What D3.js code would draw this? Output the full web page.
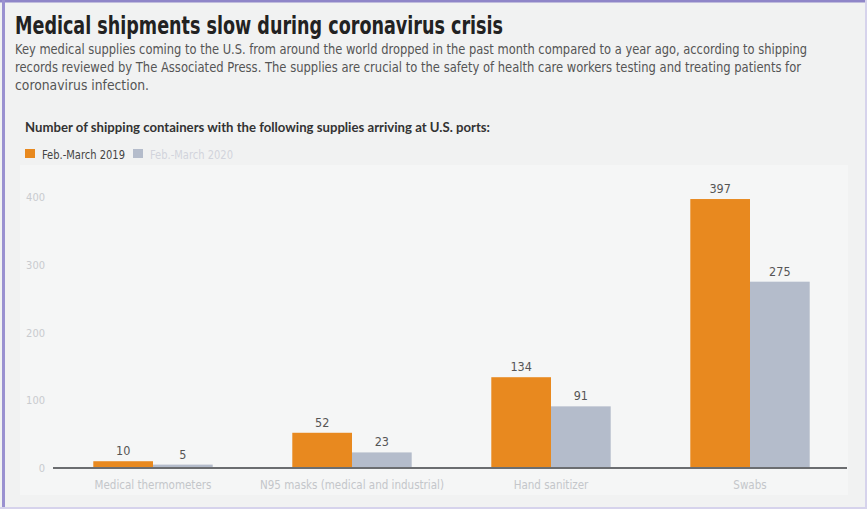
<!DOCTYPE html>
<html><head><meta charset="utf-8">
<script src="https://cdn.jsdelivr.net/npm/d3@7"></script>
<style>
html,body{margin:0;padding:0;background:#f1f2f2;}
svg{display:block;}
</style></head>
<body>
<script>
const categories = ["Medical thermometers", "N95 masks (medical and industrial)", "Hand sanitizer", "Swabs"];
const seriesNames = ["Feb.-March 2019", "Feb.-March 2020"];
const values2019 = [10, 52, 134, 397];
const values2020 = [5, 23, 91, 275];
const yTicks = [0, 100, 200, 300, 400];
const colors = ["#e8891f", "#b4bccb"];

const W = 867, H = 509;
const COND = "'DejaVu Sans Condensed','Liberation Sans Narrow',sans-serif";
const svg = d3.select("body").append("svg").attr("width", W).attr("height", H);

// background and frame
svg.append("rect").attr("x",0).attr("y",0).attr("width",W).attr("height",H).attr("fill","#f1f2f2");
svg.append("rect").attr("x",20).attr("y",165).attr("width",828).attr("height",330).attr("fill","#f5f6f6");
svg.append("rect").attr("x",0).attr("y",0).attr("width",W).attr("height",2.5).attr("fill","#8f86c8");
svg.append("rect").attr("x",2).attr("y",0).attr("width",3).attr("height",H).attr("fill","#9a91d0");
svg.append("rect").attr("x",W-2).attr("y",0).attr("width",2).attr("height",H).attr("fill","#d6d3ec");
svg.append("rect").attr("x",0).attr("y",H-2).attr("width",W).attr("height",2).attr("fill","#d6d3ec");

// titles
svg.append("text").attr("x",15).attr("y",34)
  .style("font-family",COND)
  .style("font-weight","bold").style("font-size","24px").attr("fill","#222")
  .attr("textLength",488).attr("lengthAdjust","spacingAndGlyphs")
  .text("Medical shipments slow during coronavirus crisis");
const sub = ["Key medical supplies coming to the U.S. from around the world dropped in the past month compared to a year ago, according to shipping",
  "records reviewed by The Associated Press. The supplies are crucial to the safety of health care workers testing and treating patients for",
  "coronavirus infection."];
const subLen = [792, 786, 134];
sub.forEach((s,i)=>{
  svg.append("text").attr("x",15).attr("y",54+i*18)
    .style("font-family",COND)
    .style("font-size","13.5px").attr("fill","#555")
    .attr("textLength",subLen[i]).attr("lengthAdjust","spacingAndGlyphs").text(s);
});
svg.append("text").attr("x",25).attr("y",132)
  .style("font-family","Lato,sans-serif").style("font-weight","bold")
  .style("font-size","13px").attr("fill","#333")
  .attr("textLength",465).attr("lengthAdjust","spacingAndGlyphs")
  .text("Number of shipping containers with the following supplies arriving at U.S. ports:");

// legend
const leg = svg.append("g").attr("transform","translate(25,149)");
const legX = [0, 108];
seriesNames.forEach((n,i)=>{
  leg.append("rect").attr("x",legX[i]).attr("y",0).attr("width",10).attr("height",9).attr("fill",colors[i]);
  leg.append("text").attr("x",legX[i]+17).attr("y",9.5)
    .style("font-family",COND)
    .style("font-size","12.5px").attr("fill", i===0 ? "#444" : "#d2d4dc")
    .attr("textLength",83).attr("lengthAdjust","spacingAndGlyphs").text(n);
});

// scales
const margin = {left:53.5, right:849.5, top:197, bottom:468};
const x0 = d3.scaleBand().domain(categories).range([margin.left, margin.right]).paddingInner(0.4).paddingOuter(0.2);
const x1 = d3.scaleBand().domain([0,1]).range([0, x0.bandwidth()]);
const y = d3.scaleLinear().domain([0,400]).range([margin.bottom, margin.top]);

// y axis labels
const yAxis = d3.axisLeft(y).tickValues(yTicks).tickSize(0).tickPadding(0);
const yg = svg.append("g").attr("transform","translate(45,0)").call(yAxis);
yg.select(".domain").remove();
yg.selectAll("text").style("font-family",COND)
  .style("font-size","11px").attr("fill","#c9cbcf");

// bars
const data = categories.map((c,i)=>({cat:c, vals:[values2019[i], values2020[i]]}));
const g = svg.append("g");
data.forEach(d=>{
  d.vals.forEach((v,j)=>{
    const bx = x0(d.cat) + x1(j);
    g.append("rect").attr("x",bx).attr("y",y(v)).attr("width",x1.bandwidth())
      .attr("height",y(0)-y(v)).attr("fill",colors[j]);
    g.append("text").attr("x",bx + x1.bandwidth()/2).attr("y",y(v)-6)
      .attr("text-anchor","middle")
      .style("font-family",COND)
      .style("font-size","12.5px").attr("fill","#555").text(v);
  });
});

// x axis
const xAxis = d3.axisBottom(x0).tickSize(0).tickPadding(13);
const xg = svg.append("g").attr("transform",`translate(0,${y(0)})`).call(xAxis);
xg.select(".domain").remove();
xg.selectAll("text").style("font-family",COND)
  .style("font-size","11.5px").attr("fill","#c4c6ca");
svg.append("line").attr("x1",53).attr("x2",847).attr("y1",y(0)).attr("y2",y(0))
  .attr("stroke","#6b6d70").attr("stroke-width",2);
</script>
</body></html>
